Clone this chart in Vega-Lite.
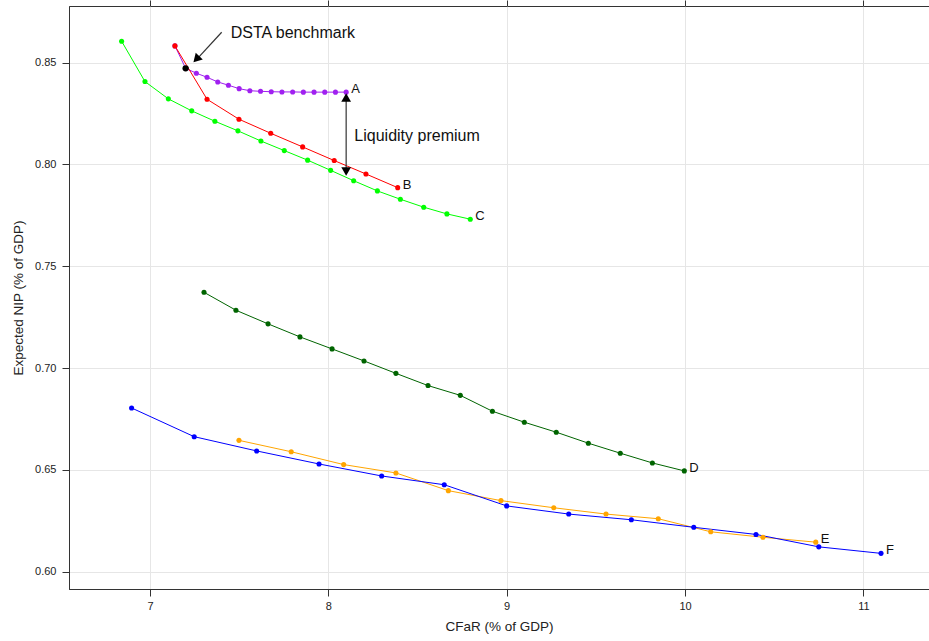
{
  "$schema": "https://vega.github.io/schema/vega-lite/v6.json",
  "width": 860,
  "height": 583,
  "autosize": {"type": "none"},
  "padding": {"left": 69, "top": 6, "right": 0, "bottom": 52},
  "background": "white",
  "config": {
    "font": "Liberation Sans",
    "view": {"stroke": "#333333", "strokeWidth": 1}
  },
  "datasets": {
    "curves": [
      {"s": "A", "x": 7.14, "y": 0.8582},
      {"s": "A", "x": 7.20, "y": 0.8472},
      {"s": "A", "x": 7.26, "y": 0.8448},
      {"s": "A", "x": 7.32, "y": 0.8428},
      {"s": "A", "x": 7.38, "y": 0.8405},
      {"s": "A", "x": 7.44, "y": 0.8389},
      {"s": "A", "x": 7.50, "y": 0.8372},
      {"s": "A", "x": 7.56, "y": 0.8362},
      {"s": "A", "x": 7.62, "y": 0.8359},
      {"s": "A", "x": 7.68, "y": 0.8357},
      {"s": "A", "x": 7.74, "y": 0.8356},
      {"s": "A", "x": 7.80, "y": 0.8356},
      {"s": "A", "x": 7.86, "y": 0.8355},
      {"s": "A", "x": 7.92, "y": 0.8355},
      {"s": "A", "x": 7.98, "y": 0.8355},
      {"s": "A", "x": 8.04, "y": 0.8355},
      {"s": "A", "x": 8.10, "y": 0.8355},
      {"s": "B", "x": 7.14, "y": 0.8582},
      {"s": "B", "x": 7.32, "y": 0.8320},
      {"s": "B", "x": 7.499, "y": 0.8222},
      {"s": "B", "x": 7.677, "y": 0.8153},
      {"s": "B", "x": 7.856, "y": 0.8086},
      {"s": "B", "x": 8.033, "y": 0.8019},
      {"s": "B", "x": 8.211, "y": 0.7953},
      {"s": "B", "x": 8.389, "y": 0.7886},
      {"s": "C", "x": 6.841, "y": 0.8605},
      {"s": "C", "x": 6.972, "y": 0.8407},
      {"s": "C", "x": 7.103, "y": 0.8322},
      {"s": "C", "x": 7.234, "y": 0.8263},
      {"s": "C", "x": 7.364, "y": 0.8212},
      {"s": "C", "x": 7.493, "y": 0.8165},
      {"s": "C", "x": 7.622, "y": 0.8115},
      {"s": "C", "x": 7.753, "y": 0.8068},
      {"s": "C", "x": 7.884, "y": 0.8021},
      {"s": "C", "x": 8.013, "y": 0.7971},
      {"s": "C", "x": 8.142, "y": 0.7920},
      {"s": "C", "x": 8.275, "y": 0.7870},
      {"s": "C", "x": 8.404, "y": 0.7829},
      {"s": "C", "x": 8.535, "y": 0.7790},
      {"s": "C", "x": 8.665, "y": 0.7757},
      {"s": "C", "x": 8.796, "y": 0.7731},
      {"s": "D", "x": 7.303, "y": 0.7372},
      {"s": "D", "x": 7.482, "y": 0.7284},
      {"s": "D", "x": 7.662, "y": 0.7217},
      {"s": "D", "x": 7.841, "y": 0.7153},
      {"s": "D", "x": 8.021, "y": 0.7094},
      {"s": "D", "x": 8.200, "y": 0.7035},
      {"s": "D", "x": 8.379, "y": 0.6974},
      {"s": "D", "x": 8.559, "y": 0.6914},
      {"s": "D", "x": 8.740, "y": 0.6866},
      {"s": "D", "x": 8.920, "y": 0.6788},
      {"s": "D", "x": 9.099, "y": 0.6734},
      {"s": "D", "x": 9.278, "y": 0.6685},
      {"s": "D", "x": 9.458, "y": 0.6631},
      {"s": "D", "x": 9.637, "y": 0.6582},
      {"s": "D", "x": 9.817, "y": 0.6534},
      {"s": "D", "x": 9.996, "y": 0.6495},
      {"s": "E", "x": 7.499, "y": 0.6645},
      {"s": "E", "x": 7.792, "y": 0.6589},
      {"s": "E", "x": 8.086, "y": 0.6526},
      {"s": "E", "x": 8.379, "y": 0.6485},
      {"s": "E", "x": 8.673, "y": 0.6398},
      {"s": "E", "x": 8.968, "y": 0.6349},
      {"s": "E", "x": 9.264, "y": 0.6314},
      {"s": "E", "x": 9.557, "y": 0.6283},
      {"s": "E", "x": 9.850, "y": 0.6260},
      {"s": "E", "x": 10.144, "y": 0.6196},
      {"s": "E", "x": 10.437, "y": 0.6169},
      {"s": "E", "x": 10.733, "y": 0.6145},
      {"s": "F", "x": 6.897, "y": 0.6804},
      {"s": "F", "x": 7.248, "y": 0.6663},
      {"s": "F", "x": 7.598, "y": 0.6593},
      {"s": "F", "x": 7.948, "y": 0.6529},
      {"s": "F", "x": 8.299, "y": 0.6470},
      {"s": "F", "x": 8.650, "y": 0.6427},
      {"s": "F", "x": 9.000, "y": 0.6323},
      {"s": "F", "x": 9.348, "y": 0.6283},
      {"s": "F", "x": 9.699, "y": 0.6255},
      {"s": "F", "x": 10.049, "y": 0.6218},
      {"s": "F", "x": 10.398, "y": 0.6183},
      {"s": "F", "x": 10.750, "y": 0.6122},
      {"s": "F", "x": 11.099, "y": 0.6090}
    ],
    "labels": [
      {"label": "A", "x": 8.10, "y": 0.8355},
      {"label": "B", "x": 8.389, "y": 0.7886},
      {"label": "C", "x": 8.796, "y": 0.7731},
      {"label": "D", "x": 9.996, "y": 0.6495},
      {"label": "E", "x": 10.733, "y": 0.6145},
      {"label": "F", "x": 11.099, "y": 0.6090}
    ],
    "benchmark": [
      {"x": 7.20, "y": 0.8472}
    ],
    "notes": [
      {"text": "DSTA benchmark", "x": 7.453, "y": 0.8647},
      {"text": "Liquidity premium", "x": 8.146, "y": 0.8140}
    ],
    "shafts": [
      {"x": 7.402, "y": 0.8649, "x2": 7.262, "y2": 0.8516},
      {"x": 8.1, "y": 0.8329, "x2": 8.1, "y2": 0.7965}
    ],
    "heads": [
      {"x": 8.1, "y": 0.8329, "head": "up"},
      {"x": 8.1, "y": 0.7965, "head": "down"}
    ],
    "diaghead": [
      {"x": 7.260, "y": 0.8517}
    ]
  },
  "resolve": {"axis": {"x": "independent"}},
  "layer": [
    {
      "data": {"name": "curves"},
      "mark": {"type": "line", "strokeWidth": 1, "point": {"filled": true, "size": 26, "opacity": 1}},
      "encoding": {
        "x": {
          "field": "x", "type": "quantitative",
          "scale": {"domain": [6.546, 11.368], "nice": false, "zero": false},
          "axis": {
            "orient": "bottom",
            "values": [7, 8, 9, 10, 11],
            "title": "CFaR (% of GDP)",
            "tickSize": 7, "tickColor": "#333333",
            "domainColor": "#333333",
            "labelFontSize": 11, "labelColor": "#222222", "labelPadding": 4,
            "titleFontSize": 13.5, "titleFontWeight": "normal", "titleColor": "#222222", "titlePadding": 8,
            "grid": true, "gridColor": "#e6e6e6"
          }
        },
        "y": {
          "field": "y", "type": "quantitative",
          "scale": {"domain": [0.5915, 0.8778], "nice": false, "zero": false},
          "axis": {
            "values": [0.6, 0.65, 0.7, 0.75, 0.8, 0.85],
            "format": ".2f",
            "title": "Expected NIP (% of GDP)",
            "tickSize": 7, "tickColor": "#333333",
            "domainColor": "#333333",
            "labelFontSize": 11, "labelColor": "#222222", "labelPadding": 6,
            "titleFontSize": 13.5, "titleFontWeight": "normal", "titleColor": "#222222", "titlePadding": 9,
            "grid": true, "gridColor": "#e6e6e6"
          }
        },
        "color": {
          "field": "s", "type": "nominal",
          "scale": {"domain": ["A", "B", "C", "D", "E", "F"], "range": ["#a020f0", "#ff0000", "#00ff00", "#006400", "#ffa500", "#0000ff"]},
          "legend": null
        }
      }
    },
    {
      "data": {"name": "benchmark"},
      "mark": {"type": "point", "filled": true, "size": 40, "color": "#000000", "opacity": 1},
      "encoding": {
        "x": {"field": "x", "type": "quantitative", "axis": null},
        "y": {"field": "y", "type": "quantitative"}
      }
    },
    {
      "data": {"name": "labels"},
      "mark": {"type": "text", "align": "left", "baseline": "middle", "dx": 5, "dy": -3, "fontSize": 13, "color": "#111111"},
      "encoding": {
        "x": {"field": "x", "type": "quantitative", "axis": null},
        "y": {"field": "y", "type": "quantitative"},
        "text": {"field": "label"}
      }
    },
    {
      "data": {"name": "shafts"},
      "mark": {"type": "rule", "color": "#333333", "strokeWidth": 1.2},
      "encoding": {
        "x": {"field": "x", "type": "quantitative", "axis": null},
        "y": {"field": "y", "type": "quantitative"},
        "x2": {"field": "x2"},
        "y2": {"field": "y2"}
      }
    },
    {
      "data": {"name": "heads"},
      "mark": {"type": "point", "filled": true, "size": 95, "color": "#000000", "opacity": 1},
      "encoding": {
        "x": {"field": "x", "type": "quantitative", "axis": null},
        "y": {"field": "y", "type": "quantitative"},
        "shape": {"field": "head", "type": "nominal", "scale": {"domain": ["up", "down"], "range": ["triangle-up", "triangle-down"]}, "legend": null}
      }
    },
    {
      "data": {"name": "diaghead"},
      "mark": {"type": "point", "filled": true, "size": 95, "color": "#000000", "opacity": 1, "shape": "triangle-up", "angle": 223.5},
      "encoding": {
        "x": {"field": "x", "type": "quantitative", "axis": null},
        "y": {"field": "y", "type": "quantitative"}
      }
    },
    {
      "data": {"name": "notes"},
      "mark": {"type": "text", "align": "left", "baseline": "middle", "fontSize": 16, "color": "#111111"},
      "encoding": {
        "x": {
          "field": "x", "type": "quantitative",
          "axis": {"orient": "top", "values": [7, 8, 9, 10, 11], "labels": false, "domain": false, "grid": false, "title": null, "tickSize": 6, "tickColor": "#333333"}
        },
        "y": {"field": "y", "type": "quantitative"},
        "text": {"field": "text"}
      }
    }
  ]
}
